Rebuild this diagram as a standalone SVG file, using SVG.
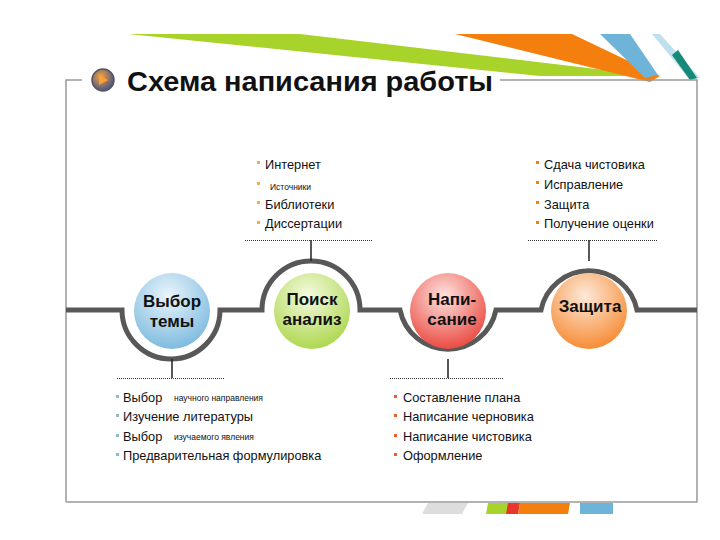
<svg xmlns="http://www.w3.org/2000/svg" width="720" height="540" viewBox="0 0 720 540">
<defs>
<radialGradient id="gb" cx="0.45" cy="0.3" r="0.8"><stop offset="0" stop-color="#eaf5fb"/><stop offset="1" stop-color="#6fb3dc"/></radialGradient>
<radialGradient id="gg" cx="0.45" cy="0.3" r="0.8"><stop offset="0" stop-color="#f4fbe0"/><stop offset="1" stop-color="#a5d23c"/></radialGradient>
<radialGradient id="gr" cx="0.45" cy="0.3" r="0.8"><stop offset="0" stop-color="#fde3e0"/><stop offset="1" stop-color="#e8362c"/></radialGradient>
<radialGradient id="go" cx="0.45" cy="0.3" r="0.8"><stop offset="0" stop-color="#fde9d8"/><stop offset="1" stop-color="#f57f1f"/></radialGradient>
<radialGradient id="gi" cx="0.4" cy="0.35" r="0.7"><stop offset="0" stop-color="#f7a13b"/><stop offset="1" stop-color="#3b4f8a"/></radialGradient>
</defs>
<style>
.t{font-family:"Liberation Sans",Arial,sans-serif;fill:#111}
.n{font-family:"Liberation Sans",Arial,sans-serif;font-weight:bold;font-size:17px;fill:#111;text-anchor:middle}
.s{font-size:12.8px}.x{font-size:8.5px}
.dot{stroke:#333;stroke-width:1;stroke-dasharray:1 1}
.arc{fill:none;stroke:#585858;stroke-width:5}
</style>
<rect width="720" height="540" fill="#fff"/>
<polygon points="128,34 300,34 655,76 540,76" fill="#a8d32a"/>
<polygon points="455,34 572,34 660,76 650,82" fill="#f57f0e"/>
<polygon points="600,34 630,34 658,75 645,78" fill="#6db4d8"/>
<polygon points="652,34 660,34 700,78 690,80" fill="#bfe0ee"/>
<polygon points="672,55 678,50 697,78 690,80" fill="#168a78"/>
<path d="M66,502 V80 H82 M500,80 H697 V502 H66" fill="none" stroke="#999" stroke-width="1.5"/>
<polygon points="428,503 468,503 462,514 422,514" fill="#ddd"/>
<polygon points="488,503 514,503 512,514 486,514" fill="#a8d32a"/>
<polygon points="508,503 520,503 518,514 506,514" fill="#e8362c"/>
<polygon points="520,503 570,503 568,514 518,514" fill="#f57f0e"/>
<rect x="580" y="503" width="33" height="11" fill="#6db4d8"/>
<circle cx="103" cy="80" r="11" fill="url(#gi)" stroke="#556" stroke-width="1.5"/>
<path d="M99,75 L108,80 L99,85 Z" fill="#f7a13b"/>
<text class="t" x="127" y="91" font-size="28" font-weight="bold" textLength="366" lengthAdjust="spacingAndGlyphs">Схема написания работы</text>
<g id="connectors">
<path class="arc" d="M66,310 H122 A49,49 0 0 0 220,310 H262 A49,49 0 0 1 360,310 H400 A49,49 0 0 0 496,310 H541 A49,49 0 0 1 637,310 H697"/>
<path d="M172,359 V378 M448,359 V378 M311,261 V240 M589,261 V240" stroke="#222" stroke-width="1.5"/>
<path class="dot" d="M245,240.5 H372 M528,240.5 H657 M117,378.5 H225 M390,378.5 H503"/>
</g>
<g id="n1"><circle cx="172" cy="311" r="38" fill="url(#gb)"/><text class="n" x="172" y="307">Выбор</text><text class="n" x="172" y="327">темы</text></g>
<g id="n2"><circle cx="312" cy="311" r="38" fill="url(#gg)"/><text class="n" x="312" y="305">Поиск</text><text class="n" x="312" y="325">анализ</text></g>
<g id="n3"><circle cx="448" cy="311" r="38" fill="url(#gr)"/><text class="n" x="452" y="305">Напи-</text><text class="n" x="452" y="325">сание</text></g>
<g id="n4"><circle cx="589" cy="311" r="38" fill="url(#go)"/><text class="n" x="590" y="312">Защита</text></g>
<g id="l1" class="t s">
<rect x="257" y="161" width="3" height="3" fill="#f0b040"/><text x="265" y="169">Интернет</text>
<rect x="257" y="182" width="3" height="3" fill="#f0b040"/><text x="270" y="190" class="x">Источники</text>
<rect x="257" y="201" width="3" height="3" fill="#f0b040"/><text x="265" y="209">Библиотеки</text>
<rect x="257" y="221" width="3" height="3" fill="#f0b040"/><text x="265" y="228">Диссертации</text>
</g>
<g id="l2" class="t s">
<rect x="536" y="161" width="3" height="3" fill="#f57f0e"/><text x="544" y="169">Сдача чистовика</text>
<rect x="536" y="181" width="3" height="3" fill="#f57f0e"/><text x="544" y="189">Исправление</text>
<rect x="536" y="201" width="3" height="3" fill="#f57f0e"/><text x="544" y="209">Защита</text>
<rect x="536" y="221" width="3" height="3" fill="#f57f0e"/><text x="544" y="228">Получение оценки</text>
</g>
<g id="l3" class="t s">
<rect x="116" y="395" width="3" height="3" fill="#8fb8c8"/><text x="123" y="402">Выбор</text><text x="174" y="401" class="x">научного направления</text>
<rect x="116" y="414" width="3" height="3" fill="#8fb8c8"/><text x="123" y="421">Изучение литературы</text>
<rect x="116" y="434" width="3" height="3" fill="#8fb8c8"/><text x="123" y="441">Выбор</text><text x="174" y="440" class="x">изучаемого явления</text>
<rect x="116" y="453" width="3" height="3" fill="#8fb8c8"/><text x="123" y="460">Предварительная формулировка</text>
</g>
<g id="l4" class="t s">
<rect x="394" y="395" width="3" height="3" fill="#e8602c"/><text x="403" y="402">Составление плана</text>
<rect x="394" y="414" width="3" height="3" fill="#e8602c"/><text x="403" y="421">Написание черновика</text>
<rect x="394" y="434" width="3" height="3" fill="#e8602c"/><text x="403" y="441">Написание чистовика</text>
<rect x="394" y="453" width="3" height="3" fill="#e8602c"/><text x="403" y="460">Оформление</text>
</g>
</svg>
